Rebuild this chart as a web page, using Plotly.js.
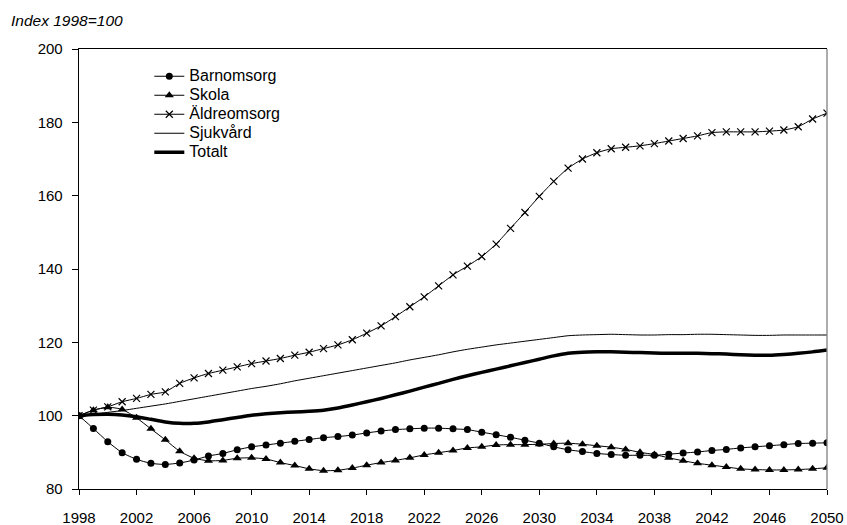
<!DOCTYPE html>
<html>
<head>
<meta charset="utf-8">
<script src="https://cdn.plot.ly/plotly-3.0.1.min.js"></script>
<style>html,body{margin:0;padding:0;background:#fff;}#chart{width:847px;height:525px;}</style>
</head>
<body>
<div id="chart"></div>
<script>
const years = [];
for (let y = 1998; y <= 2050; y++) years.push(y);

const seriesNames = ["Barnomsorg", "Skola", "Äldreomsorg", "Sjukvård", "Totalt"];

const barnomsorg = [100, 96.5, 92.9, 89.9, 88.1, 87.0, 86.7, 87.1, 87.9, 89.0,
  89.7, 90.7, 91.5, 92.0, 92.5, 93.0, 93.5, 94.0, 94.3, 94.7,
  95.3, 95.8, 96.2, 96.4, 96.6, 96.6, 96.4, 96.2, 95.5, 94.8,
  94.1, 93.3, 92.5, 91.5, 90.7, 90.2, 89.7, 89.4, 89.2, 89.2,
  89.2, 89.5, 89.8, 90.1, 90.5, 90.8, 91.2, 91.5, 91.8, 92.1,
  92.4, 92.5, 92.6];

const skola = [100, 101.5, 102.3, 101.7, 99.4, 96.4, 93.4, 90.3, 88.4, 87.7,
  87.8, 88.4, 88.5, 88.2, 87.2, 86.4, 85.5, 85.0, 85.1, 85.7,
  86.5, 87.2, 87.8, 88.5, 89.3, 89.9, 90.5, 91.2, 91.5, 92.0,
  92.1, 92.1, 92.2, 92.4, 92.5, 92.2, 91.8, 91.4, 90.8, 90.0,
  89.4, 88.5, 87.7, 87.0, 86.5, 86.0, 85.5, 85.3, 85.2, 85.2,
  85.3, 85.5, 85.8];

const aldreomsorg = [100, 101.5, 102.4, 103.8, 104.7, 105.8, 106.5, 108.8, 110.3, 111.5,
  112.4, 113.3, 114.2, 114.9, 115.6, 116.5, 117.3, 118.3, 119.3, 120.7,
  122.5, 124.5, 127.0, 129.7, 132.4, 135.4, 138.4, 140.8, 143.4, 146.8,
  151.1, 155.4, 159.8, 163.9, 167.5, 170.0, 171.7, 172.8, 173.2, 173.6,
  174.2, 174.9, 175.6, 176.3, 177.2, 177.4, 177.4, 177.4, 177.6, 177.9,
  178.8, 180.9, 182.5];

const sjukvard = [100, 100.4, 100.9, 101.4, 102.0, 102.6, 103.2, 103.9, 104.6, 105.3,
  106.0, 106.7, 107.4, 108.0, 108.7, 109.5, 110.2, 110.9, 111.6, 112.3,
  113.0, 113.7, 114.4, 115.2, 115.9, 116.6, 117.4, 118.1, 118.7, 119.3,
  119.8, 120.3, 120.8, 121.3, 121.8, 122.0, 122.1, 122.2, 122.1, 122.0,
  122.0, 122.1, 122.1, 122.2, 122.2, 122.1, 122.0, 121.9, 121.9, 122.0,
  122.0, 122.0, 122.0];

const totalt = [100, 100.3, 100.4, 100.2, 99.7, 99.0, 98.3, 97.9, 97.9, 98.3,
  98.9, 99.5, 100.1, 100.5, 100.8, 101.0, 101.2, 101.5, 102.1, 102.9,
  103.8, 104.7, 105.7, 106.7, 107.8, 108.8, 109.9, 110.9, 111.8, 112.7,
  113.6, 114.5, 115.4, 116.3, 117.0, 117.3, 117.4, 117.4, 117.3, 117.2,
  117.1, 117.0, 117.0, 117.0, 116.9, 116.8, 116.6, 116.5, 116.5, 116.7,
  117.0, 117.4, 117.9];

const yTitle = "Index 1998=100";
const xTickVals = [];
for (let y = 1998; y <= 2050; y += 4) xTickVals.push(y);
const yTickVals = [80, 100, 120, 140, 160, 180, 200];

const FONT = "Liberation Sans, Arial, sans-serif";
const lineShape = {shape: "spline", smoothing: 0.6};
const legendName = n => '<span style="font-size:16px">' + n + '</span>';

const traces = [
  {x: years, y: barnomsorg, name: legendName(seriesNames[0]), type: "scatter", mode: "lines+markers",
   line: Object.assign({color: "#000", width: 1}, lineShape),
   marker: {symbol: "circle", size: 7, color: "#000"}},
  {x: years, y: skola, name: legendName(seriesNames[1]), type: "scatter", mode: "lines+markers",
   line: Object.assign({color: "#000", width: 1}, lineShape),
   marker: {symbol: "triangle-up", size: 8, color: "#000"}},
  {x: years, y: aldreomsorg, name: legendName(seriesNames[2]), type: "scatter", mode: "lines+markers",
   line: Object.assign({color: "#000", width: 1}, lineShape),
   marker: {symbol: "x-thin-open", size: 7, color: "#000", line: {color: "#000", width: 1.2}}},
  {x: years, y: sjukvard, name: legendName(seriesNames[3]), type: "scatter", mode: "lines",
   line: Object.assign({color: "#000", width: 1}, lineShape)},
  {x: years, y: totalt, name: legendName(seriesNames[4]), type: "scatter", mode: "lines",
   line: Object.assign({color: "#000", width: 3.5}, lineShape)}
];

const layout = {
  width: 847, height: 525,
  margin: {l: 79, r: 20, t: 49, b: 36, pad: 0},
  paper_bgcolor: "#fff", plot_bgcolor: "#fff",
  font: {family: FONT, color: "#000", size: 15},
  showlegend: true,
  legend: {x: 0.094, y: 0.971, xanchor: "left", yanchor: "top",
    bgcolor: "rgba(0,0,0,0)", borderwidth: 0, font: {family: FONT, size: 12, color: "#000"},
    tracegroupgap: 0, itemwidth: 30},
  title: {text: yTitle, font: {family: FONT, size: 15.5, style: "italic", color: "#000"},
    x: 0.013, xanchor: "left", xref: "container", y: 0.96, yanchor: "middle", yref: "container"},
  xaxis: {range: [1998, 2050], tickvals: xTickVals, ticktext: xTickVals.map(String),
    showgrid: false, zeroline: false, showline: true, linecolor: "#000", linewidth: 1.3,
    ticks: "outside", ticklen: 5, tickwidth: 1, tickcolor: "#000", mirror: true,
    tickfont: {family: FONT, size: 15, color: "#000"}, ticklabelstandoff: 10},
  xaxis2: {range: [1998, 2050], tickvals: xTickVals, overlaying: "x", anchor: "y",
    showgrid: false, zeroline: false, showline: false, showticklabels: false,
    ticks: "inside", ticklen: 4, tickwidth: 1, tickcolor: "#000"},
  yaxis: {range: [80, 200], tickvals: yTickVals, showgrid: false, zeroline: false,
    showline: true, linecolor: "#000", linewidth: 1.3,
    ticks: "outside", ticklen: 6, tickwidth: 1, tickcolor: "#000",
    tickfont: {family: FONT, size: 15, color: "#000"}, ticklabelstandoff: 6},
  yaxis2: {range: [80, 200], tickvals: yTickVals, overlaying: "y", anchor: "x",
    showgrid: false, zeroline: false, showline: false, showticklabels: false,
    ticks: "inside", ticklen: 6, tickwidth: 1, tickcolor: "#000"},
  shapes: [{type: "line", xref: "paper", yref: "paper", x0: 1, x1: 1, y0: 0, y1: 1,
    line: {color: "#808080", width: 1.3}}]
};

Plotly.newPlot("chart", traces, layout, {displayModeBar: false, staticPlot: true});
</script>
</body>
</html>
